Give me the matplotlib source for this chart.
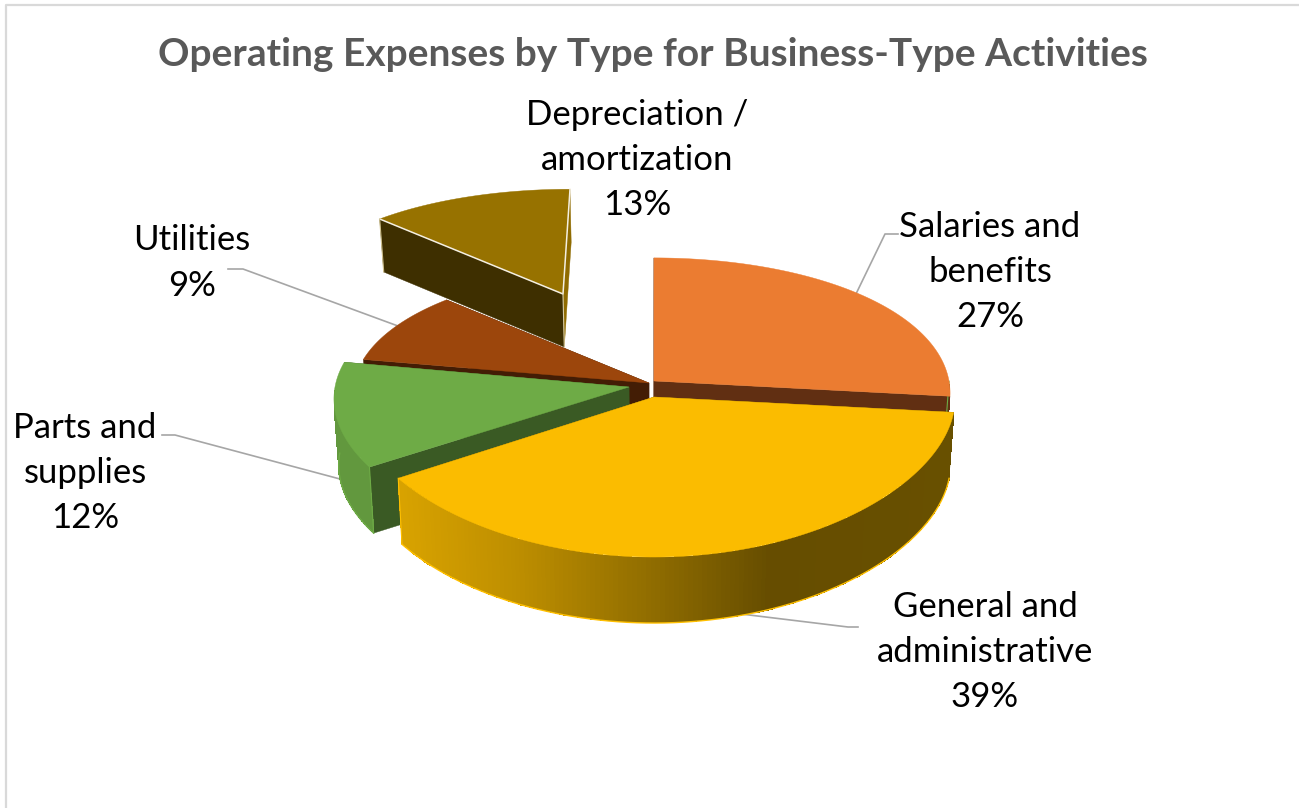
import matplotlib
matplotlib.use("Agg")
import matplotlib.pyplot as plt
from matplotlib.colors import to_rgb
import numpy as np

plt.rcParams['font.family'] = ['Lato', 'DejaVu Sans']

title = "Operating Expenses by Type for Business-Type Activities"
categories = ["Salaries and\nbenefits", "General and\nadministrative", "Parts and\nsupplies",
              "Utilities", "Depreciation /\namortization"]
values = [26.7, 39.3, 11.9, 9.1, 13.0]

### 1. Layout of the exploded pie, in pixels

apex_x = [654, 654, 629, 649, 563]
apex_y = [381, 397, 387, 383, 294]
radius = [295, 301, 294, 295, 274]
flat = [141, 142, 140, 133, 120]
depth = [60, 66, 66, 60, 53]
lean = [0, 0, 0, 0, -7]
p_x = [0.085, 0.012, 0.085, 0.085, 0.085]   # perspective on width

top_col = ["#EB7C31", "#FBBC00", "#6EAB46", "#9C460C", "#977200"]
cut_col = ["#612F12", "#7F6000", "#3A5A24", "#431D05", "#3E2F00"]
draw_order = [4, 3, 2, 0, 1]

label_x = [990, 985, 85, 192, 637]
label_y = [272, 652, 473, 263, 160]

leaders = [
    ([855, 885, 898], [296, 234, 234]),
    ([741, 848, 858], [614, 627, 627]),
    ([162, 175, 340], [435, 435, 479]),
    ([228, 243, 398], [269, 269, 326]),
]

P_Y = 0.127   # perspective on height
VAN_X = 650   # vanishing x for the lower face
BOT = 0.985


def project(i, t):
    X, Y = np.sin(t), -np.cos(t)
    x = apex_x[i] + radius[i]*X*(1 + p_x[i]*Y) + lean[i]*Y
    y = apex_y[i] + flat[i]*Y*(1 + P_Y*Y)
    return x, y


def drop(i, x, y):
    return VAN_X + (x - VAN_X)*BOT, y + depth[i]


def rim_colours(i, t):
    if i == 1:
        # gold side gets darker towards the right
        xs = [-0.85, -0.45, 0.0, 0.38, 1.0]
        cols = [to_rgb(c) for c in ["#D9A300", "#BD8E00", "#8F6C00", "#664D00", "#685000"]]
        return np.array([[np.interp(np.sin(a), xs, [c[k] for c in cols]) for k in range(3)] for a in t])
    col = "#62983E" if i == 2 else cut_col[i]
    return np.tile(to_rgb(col), (len(t), 1))


fig = plt.figure(figsize=(12.99, 8.08), dpi=100)
ax = fig.add_axes([0, 0, 1, 1])
ax.set_xlim(0, 1299)
ax.set_ylim(808, 0)
ax.axis("off")

ax.plot([6, 6, 1299], [808, 5, 5], color="#D9D9D9", lw=1.6)

ax.text(653, 55, title, ha="center", va="center", fontsize=28, fontweight="bold", color="#595959")

for (lx, ly) in leaders:
    ax.plot(lx, ly, color="#A6A6A6", lw=1.2, zorder=1)

total = sum(values)
edges = np.concatenate([[0], np.cumsum(values)])/total*2*np.pi

z = 2
for i in draw_order:
    t0, t1 = edges[i], edges[i + 1]
    t = np.linspace(t0, t1, 160)
    x, y = project(i, t)
    bx, by = drop(i, x, y)
    ax0, ay0 = apex_x[i], apex_y[i]
    bx0, by0 = drop(i, ax0, ay0)

    # the two cut faces
    for xe, ye, bxe, bye in ((x[0], y[0], bx[0], by[0]), (x[-1], y[-1], bx[-1], by[-1])):
        col = cut_col[i]
        if i == 4 and xe > ax0:
            col = "#8F6B00"
        ax.fill([ax0, xe, bxe, bx0], [ay0, ye, bye, by0], color=col, lw=0.3, zorder=z)

    # outer rim, only where it faces the viewer
    front = (t > np.pi/2) & (t < 3*np.pi/2)
    if front.sum() > 1:
        rx = np.vstack([x[front], bx[front]])
        ry = np.vstack([y[front], by[front]])
        mids = (t[front][:-1] + t[front][1:])/2
        ax.pcolormesh(rx, ry, rim_colours(i, mids)[np.newaxis, :, :], zorder=z)
        edge = "#FFC000" if i == 1 else "#6EAB46"
        ax.plot(rx[1], ry[1], color=edge, lw=1.0, zorder=z)
        ax.plot(rx[:, -1] if i == 1 else rx[:, 0], ry[:, -1] if i == 1 else ry[:, 0], color=edge, lw=0.8, zorder=z)

    # top face
    ax.fill(np.r_[ax0, x], np.r_[ay0, y], color=top_col[i], lw=0.3, zorder=z + 0.5)

    if i == 4:
        ax.plot([x[-1], ax0, x[0]], [y[-1], ay0, y[0]], color="#F4EFE2", lw=1.1, zorder=z + 0.6)
        ax.plot([ax0, bx0], [ay0, by0], color="#D8CDA8", lw=0.8, zorder=z + 0.6)
        ax.plot([x[0], bx[0]], [y[0], by[0]], color="#CDBF8C", lw=0.8, zorder=z + 0.6)
    z += 1

for name, v, lx, ly in zip(categories, values, label_x, label_y):
    ax.text(lx, ly, f"{name}\n{round(v)}%", ha="center", va="center", fontsize=25,
            linespacing=1.5, color="black", zorder=20)

fig.savefig("out.png", dpi=100, facecolor="white")
